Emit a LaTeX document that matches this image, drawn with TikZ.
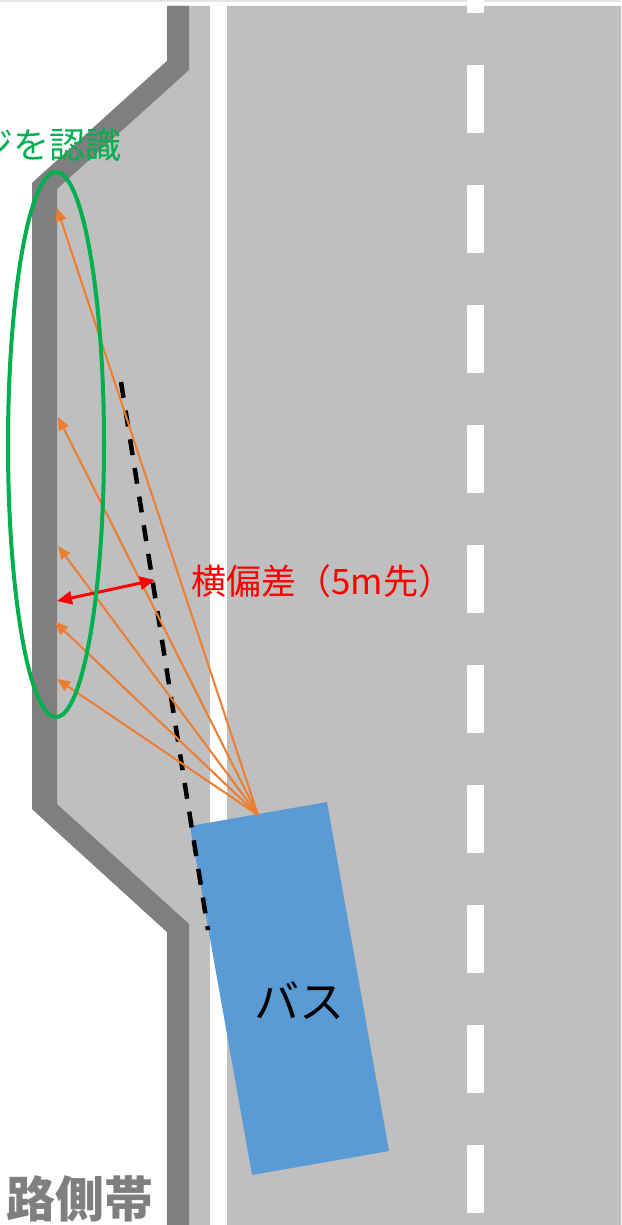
\documentclass[tikz,border=0pt]{standalone}
\usepackage{fontspec}
\newfontfamily\jp{Noto Sans CJK JP}
\usetikzlibrary{arrows.meta}
\definecolor{roadgray}{HTML}{BFBFBF}
\definecolor{curbgray}{HTML}{7F7F7F}
\definecolor{busblue}{HTML}{5B9BD5}
\definecolor{rayorange}{HTML}{ED7D31}
\definecolor{edgegreen}{HTML}{00B050}
\definecolor{devred}{HTML}{FF0000}
\tikzset{
  ray/.style={draw=rayorange, line width=2pt, -{Triangle[length=13pt,width=11pt]}},
  devarrow/.style={draw=devred, line width=3pt, {Triangle[length=15pt,width=13pt]}-{Triangle[length=15pt,width=13pt]}},
  pathline/.style={draw=black, line width=4.5pt, dash pattern=on 16pt off 13pt},
  lbl/.style={inner sep=0pt, font=\jp},
}
\begin{document}
\begin{tikzpicture}[x=1pt,y=-1pt]
\useasboundingbox (0,0) rectangle (621,1225);
\clip (0,0) rectangle (621,1225);
\fill[white] (0,0) rectangle (621,1225);
\draw[color=black!10, line width=2pt] (0,1) -- (621,1);
% road surface
\fill[roadgray] (167,6) -- (621,6) -- (621,1225) -- (167,1225) -- (167,932) -- (32,809) -- (32,183) -- (167,61) -- cycle;
% curb
\fill[curbgray] (167,6) -- (167,61) -- (32,183) -- (32,809) -- (167,932) -- (167,1225) -- (189,1225) -- (189,924) -- (57,804) -- (57,189) -- (189,70) -- (189,6) -- cycle;
% white edge line
\fill[white] (210,6) rectangle (227,1225);
% centre dashes
\foreach \k in {-1,...,9} {
  \fill[white] (467,{65+120*\k}) rectangle (484,{133+120*\k});
}
\fill[white] (467,0) rectangle (484,6);
% bus
\coordinate (b1) at (190,826);
\coordinate (b2) at (327,802);
\coordinate (b3) at (389,1151);
\coordinate (b4) at (252,1175);
\fill[busblue] (b1) -- (b2) -- (b3) -- (b4) -- cycle;
\node[lbl, font=\jp\fontsize{45}{48}\selectfont] (bus) at (299,1001) {バス};
% dashed predicted path
\coordinate (p1) at (121,382);
\coordinate (p2) at (208,930);
\draw[pathline] (p1) -- (p2);
% rays
\coordinate (s) at (258,815);
\coordinate (t1) at (57,208);
\coordinate (t2) at (58,417);
\coordinate (t3) at (58,546);
\coordinate (t4) at (55,622);
\coordinate (t5) at (57,679);
\foreach \t in {t1,t2,t3,t4,t5} { \draw[ray] (s) -- (\t); }
% lateral deviation arrow
\coordinate (d1) at (57,601);
\coordinate (d2) at (155,580);
\draw[devarrow] (d1) -- (d2);
% edge ellipse
\draw[edgegreen, line width=4pt] (56,444.5) ellipse [x radius=48pt, y radius=272.5pt];
% labels
\node[lbl, anchor=east, text=edgegreen, font=\jp\fontsize{36}{40}\selectfont] (edge) at (122,145) {エッジを認識};
\node[lbl, anchor=west, text=devred, font=\jp\fontsize{35}{40}\selectfont] (dev) at (191,581) {横偏差（5m先）};
\node[lbl, anchor=west, text=curbgray, font=\jp\bfseries\fontsize{49}{52}\selectfont] (shoulder) at (6,1199) {路側帯};
\end{tikzpicture}
\end{document}
